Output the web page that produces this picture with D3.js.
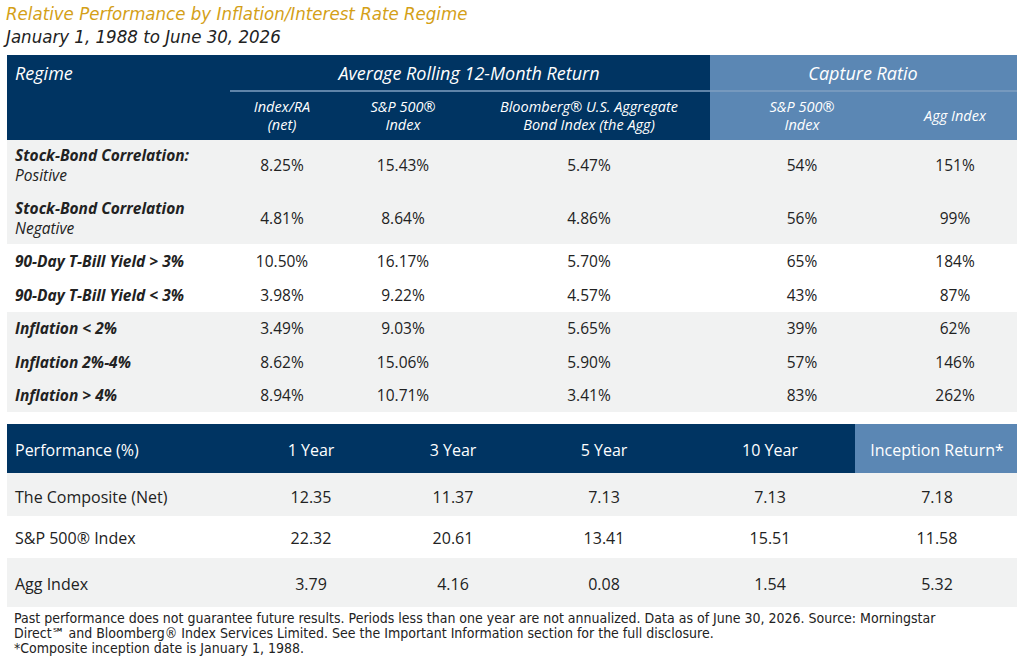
<!DOCTYPE html>
<html><head><meta charset="utf-8">
<script src="https://cdn.jsdelivr.net/npm/d3@7"></script>
<style>
body{margin:0;background:#fff;}
text{font-family:"Open Sans",sans-serif;}
.nar{font-family:"Liberation Sans Narrow","DejaVu Sans Condensed","Open Sans",sans-serif;}
</style></head>
<body><svg id="c" width="1024" height="662"></svg>
<script>
// data
const regimes = ["Stock-Bond Correlation:|Positive","Stock-Bond Correlation|Negative","90-Day T-Bill Yield > 3%","90-Day T-Bill Yield < 3%","Inflation < 2%","Inflation 2%-4%","Inflation > 4%"];
const indexRA = ["8.25%","4.81%","10.50%","3.98%","3.49%","8.62%","8.94%"];
const sp500 = ["15.43%","8.64%","16.17%","9.22%","9.03%","15.06%","10.71%"];
const agg = ["5.47%","4.86%","5.70%","4.57%","5.65%","5.90%","3.41%"];
const capSp = ["54%","56%","65%","43%","39%","57%","83%"];
const capAgg = ["151%","99%","184%","87%","62%","146%","262%"];
const perfRows = ["The Composite (Net)","S&P 500® Index","Agg Index"];
const perfCols = ["1 Year","3 Year","5 Year","10 Year","Inception Return*"];
const perfVals = [["12.35","11.37","7.13","7.13","7.18"],["22.32","20.61","13.41","15.51","11.58"],["3.79","4.16","0.08","1.54","5.32"]];

const dark="#003462", light="#5b87b4", gray="#f1f2f2";
const svg=d3.select("#c");
const L=7,R=1017;

svg.append("text").attr("x",6).attr("y",20).attr("class","nar").attr("font-style","italic").attr("font-size",18.5).attr("fill","#d4a017").text("Relative Performance by Inflation/Interest Rate Regime");
svg.append("text").attr("x",6).attr("y",43).attr("class","nar").attr("font-style","italic").attr("font-size",18.5).attr("fill","#222").text("January 1, 1988 to June 30, 2026");

// table 1
const cols1=["reg","ra","sp","agg","csp","cagg"];
const x1=d3.scaleOrdinal().domain(cols1).range([15,282,403,589,802,955]);
const rowY=d3.scaleOrdinal().domain(d3.range(7)).range([165,218,261,295,328,362,395]);
svg.append("rect").attr("x",L).attr("y",55).attr("width",710-L).attr("height",85).attr("fill",dark);
svg.append("rect").attr("x",710).attr("y",55).attr("width",R-710).attr("height",85).attr("fill",light);
svg.append("line").attr("x1",230).attr("x2",R).attr("y1",91).attr("y2",91).attr("stroke","#7f9fc2").attr("stroke-width",1.5);
[[140,244,gray],[244,312,"#fff"],[312,412,gray]].forEach(b=>svg.append("rect").attr("x",L).attr("y",b[0]).attr("width",R-L).attr("height",b[1]-b[0]).attr("fill",b[2]));
const h=svg.append("g").attr("class","nar").attr("fill","#fff").attr("font-style","italic");
h.append("text").attr("x",15).attr("y",80).attr("font-size",18).text("Regime");
h.append("text").attr("x",469).attr("y",80).attr("font-size",18).attr("text-anchor","middle").text("Average Rolling 12-Month Return");
h.append("text").attr("x",863).attr("y",80).attr("font-size",18).attr("text-anchor","middle").text("Capture Ratio");
const subs=[["ra",["Index/RA","(net)"]],["sp",["S&P 500®","Index"]],["agg",["Bloomberg® U.S. Aggregate","Bond Index (the Agg)"]],["csp",["S&P 500®","Index"]],["cagg",["Agg Index"]]];
subs.forEach(([k,ls])=>{
  const t=h.append("text").attr("text-anchor","middle").attr("font-size",14.5).attr("x",x1(k)).attr("y",ls.length==1?121:112);
  ls.forEach((l,i)=>t.append("tspan").attr("x",x1(k)).attr("dy",i?18:0).text(l));
});
const body=svg.append("g").attr("fill","#222").attr("font-size",15.5);
regimes.forEach((r,i)=>{
  const p=r.split("|"), y=rowY(i);
  if(p.length>1){
    body.append("text").attr("x",15).attr("y",y-4).attr("font-weight",700).attr("font-style","italic").text(p[0]);
    body.append("text").attr("x",15).attr("y",y+16).attr("font-style","italic").text(p[1]);
  } else body.append("text").attr("x",15).attr("y",y+6).attr("font-weight",700).attr("font-style","italic").text(p[0]);
  [["ra",indexRA],["sp",sp500],["agg",agg],["csp",capSp],["cagg",capAgg]].forEach(([k,a])=>
    body.append("text").attr("x",x1(k)).attr("y",y+6).attr("text-anchor","middle").text(a[i]));
});

// table 2
const x2=d3.scaleOrdinal().domain(perfCols).range([311,453,604,770,937]);
const y2=d3.scaleOrdinal().domain(perfRows).range([497,538,584]);
svg.append("rect").attr("x",L).attr("y",424).attr("width",855-L).attr("height",49).attr("fill",dark);
svg.append("rect").attr("x",855).attr("y",424).attr("width",R-855).attr("height",49).attr("fill",light);
[[473,516,gray],[516,558,"#fff"],[558,607,gray]].forEach(b=>svg.append("rect").attr("x",L).attr("y",b[0]).attr("width",R-L).attr("height",b[1]-b[0]).attr("fill",b[2]));
const t2=svg.append("g").attr("class","nar").attr("font-size",16);
t2.append("text").attr("x",15).attr("y",456).attr("fill","#fff").text("Performance (%)");
perfCols.forEach(c=>t2.append("text").attr("x",x2(c)).attr("y",456).attr("fill","#fff").attr("text-anchor","middle").text(c));
perfRows.forEach((r,i)=>{
  t2.append("text").attr("x",15).attr("y",y2(r)+6).attr("fill","#222").text(r);
  perfCols.forEach((c,j)=>t2.append("text").attr("x",x2(c)).attr("y",y2(r)+6).attr("fill","#222").attr("text-anchor","middle").text(perfVals[i][j]));
});

// footnote
const notes=["Past performance does not guarantee future results. Periods less than one year are not annualized. Data as of June 30, 2026. Source: Morningstar","Direct℠ and Bloomberg® Index Services Limited. See the Important Information section for the full disclosure.","*Composite inception date is January 1, 1988."];
notes.forEach((n,i)=>svg.append("text").attr("class","nar").attr("x",14).attr("y",623+i*15).attr("font-size",14).attr("fill","#222").text(n));
</script></body></html>
